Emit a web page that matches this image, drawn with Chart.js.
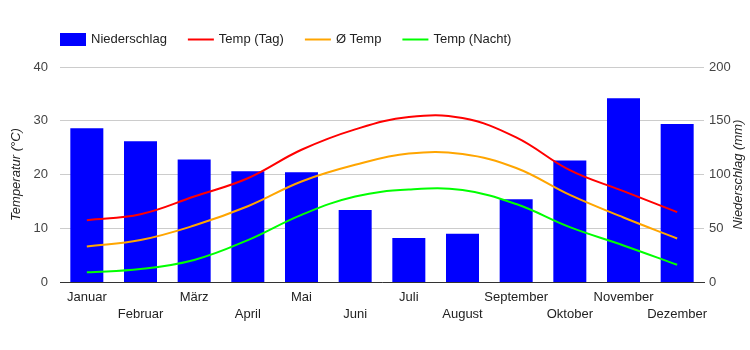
<!DOCTYPE html>
<html>
<head>
<meta charset="utf-8">
<script src="https://cdn.jsdelivr.net/npm/chart.js@4.4.0/dist/chart.umd.min.js"></script>
<style>
  html, body { margin: 0; padding: 0; background: #fff; }
  #wrap { width: 750px; height: 350px; position: relative; }
</style>
</head>
<body>
<div id="wrap"><canvas id="c" width="750" height="350"></canvas></div>
<script>
const months = ['Januar','Februar','März','April','Mai','Juni','Juli','August','September','Oktober','November','Dezember'];
const precip = [143, 131, 114, 103, 102, 67, 41, 45, 77, 113, 171, 147];
const tempDay = [11.5, 12.6, 15.9, 19.3, 24.6, 28.4, 30.7, 30.5, 26.9, 20.8, 16.9, 13.0];
const tempAvg = [6.6, 7.8, 10.5, 14.1, 18.7, 21.8, 23.9, 23.8, 21.2, 16.2, 12.0, 8.1];
const tempNight = [1.8, 2.4, 4.1, 7.8, 12.5, 15.9, 17.2, 17.1, 14.5, 10.2, 6.8, 3.2];
const tempTicks = [0, 10, 20, 30, 40];
const precipTicks = [0, 50, 100, 150, 200];
const leftTitle = 'Temperatur (°C)';
const rightTitle = 'Niederschlag (mm)';

const FONT = "'Liberation Sans', Arial, sans-serif";

const legendPlugin = {
  id: 'customLegend',
  afterDraw(chart) {
    const ctx = chart.ctx;
    ctx.save();
    ctx.font = '13px ' + FONT;
    ctx.textBaseline = 'middle';
    ctx.textAlign = 'left';
    let x = 60;
    const yMid = 39.5;
    chart.data.datasets.forEach(ds => {
      if (ds.type === 'bar') {
        ctx.fillStyle = ds.backgroundColor;
        ctx.fillRect(x, 33, 26, 13);
      } else {
        ctx.strokeStyle = ds.borderColor;
        ctx.lineWidth = 2;
        ctx.beginPath();
        ctx.moveTo(x, yMid);
        ctx.lineTo(x + 26, yMid);
        ctx.stroke();
      }
      ctx.fillStyle = '#222';
      ctx.fillText(ds.label, x + 31, yMid);
      x += 31 + ctx.measureText(ds.label).width + 21;
    });
    // axis titles, reading bottom-to-top
    const midY = (chart.chartArea.top + chart.chartArea.bottom) / 2;
    ctx.font = 'italic 13px ' + FONT;
    ctx.textAlign = 'center';
    ctx.textBaseline = 'middle';
    [[chart.scales.y.left + 16.5, leftTitle], [chart.scales.y2.right - 12, rightTitle]].forEach(([tx, t]) => {
      ctx.save();
      ctx.translate(tx, midY);
      ctx.rotate(-Math.PI / 2);
      ctx.fillText(t, 0, 0);
      ctx.restore();
    });
    ctx.restore();
  }
};

const lineDs = (label, data, color) => ({
  type: 'line', label, data, borderColor: color, backgroundColor: color,
  borderWidth: 2, pointRadius: 0, tension: 0.4, yAxisID: 'y', order: 0, fill: false
});

new Chart(document.getElementById('c'), {
  data: {
    labels: months,
    datasets: [
      { type: 'bar', label: 'Niederschlag', data: precip, backgroundColor: '#0000ff',
        yAxisID: 'y2', order: 1, categoryPercentage: 1.0, barPercentage: 0.615 },
      lineDs('Temp (Tag)', tempDay, '#ff0000'),
      lineDs('Ø Temp', tempAvg, '#ffa500'),
      lineDs('Temp (Nacht)', tempNight, '#00ff00')
    ]
  },
  options: {
    responsive: false,
    animation: false,
    devicePixelRatio: 1,
    layout: { padding: { top: 67, bottom: 0, left: 0, right: 0 } },
    plugins: { legend: { display: false }, tooltip: { enabled: false } },
    scales: {
      x: {
        grid: { display: false, drawTicks: false },
        border: { display: true, color: '#333', width: 1 },
        ticks: {
          autoSkip: false, maxRotation: 0, minRotation: 0, padding: 7,
          color: '#222', font: { family: FONT, size: 13, lineHeight: 1.28 },
          callback: function(v, i) { return i % 2 ? ['', months[i]] : months[i]; }
        },
        afterFit(s) { s.height = 68; }
      },
      y: {
        position: 'left', min: 0, max: 40,
        afterBuildTicks(s) { s.ticks = tempTicks.map(v => ({ value: v })); },
        grid: { color: '#cccccc', drawTicks: false, lineWidth: 1 },
        border: { display: false },
        ticks: { padding: 12, color: '#444', font: { family: FONT, size: 13 } },
        title: { display: false },
        afterFit(s) { s.width = 60; }
      },
      y2: {
        position: 'right', min: 0, max: 200,
        afterBuildTicks(s) { s.ticks = precipTicks.map(v => ({ value: v })); },
        grid: { display: false, drawTicks: false },
        border: { display: false },
        ticks: { padding: 5, color: '#444', font: { family: FONT, size: 13 } },
        title: { display: false },
        afterFit(s) { s.width = 46; }
      }
    }
  },
  plugins: [legendPlugin]
});
</script>
</body>
</html>
